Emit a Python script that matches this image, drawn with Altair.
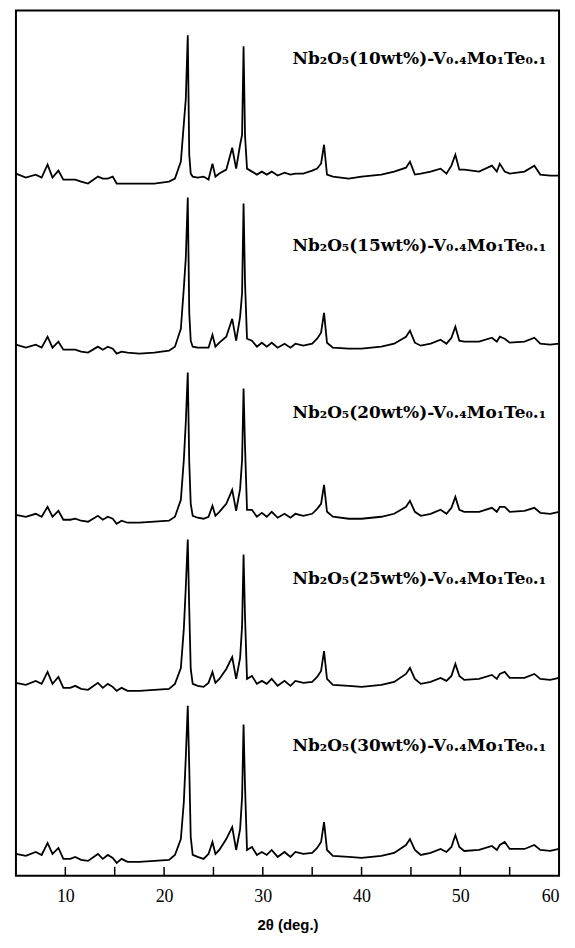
import altair as alt
import pandas as pd

# 2-theta grid (deg.)
two_theta = [5.0, 6.0, 7.0, 7.6, 8.2, 8.7, 9.3, 9.8, 10.5, 11.0,
             11.6, 12.3, 13.3, 13.8, 14.3, 14.8, 15.2, 15.7, 16.3, 17.5,
             19.0, 20.5, 21.1, 21.7, 22.0, 22.2, 22.4, 22.55, 22.7, 22.9,
             23.4, 24.0, 24.5, 24.9, 25.2, 25.6, 26.3, 26.9, 27.3, 27.7,
             27.9, 28.05, 28.2, 28.4, 28.9, 29.4, 29.9, 30.4, 30.9, 31.5,
             32.2, 32.8, 33.3, 34.1, 35.0, 35.5, 35.9, 36.2, 36.5, 37.1,
             38.7, 40.0, 42.0, 43.3, 44.5, 44.9, 45.4, 46.0, 47.0, 48.0,
             48.6, 49.1, 49.5, 49.9, 50.4, 51.9, 53.2, 53.7, 54.0, 54.5,
             55.0, 56.5, 57.5, 58.1, 59.1, 60.0]

# intensities (arbitrary units) for each sample
int_10 = [10, 6, 9, 6, 19, 6, 13, 4, 4, 4,
          2, 0, 7, 5, 5, 7, 0, 0, 0, 0,
          0, 2, 5, 22, 60, 85, 149, 29, 10, 7,
          6, 7, 4, 20, 7, 10, 14, 36, 15, 39,
          49, 138, 48, 15, 12, 9, 12, 9, 12, 8,
          11, 9, 10, 10, 13, 15, 20, 39, 9, 7,
          5, 7, 9, 12, 16, 22, 9, 10, 12, 15,
          10, 18, 29, 14, 14, 12, 18, 12, 20, 12,
          10, 12, 18, 9, 8, 8]
int_15 = [8, 5, 8, 5, 16, 5, 11, 3, 3, 3,
          1, 0, 6, 3, 6, 4, -1, 1, 0, -1,
          0, 2, 6, 24, 65, 95, 156, 40, 12, 6,
          5, 5, 5, 18, 6, 10, 16, 34, 12, 36,
          60, 150, 70, 14, 12, 6, 10, 6, 10, 5,
          9, 5, 9, 7, 9, 14, 20, 40, 10, 5,
          4, 4, 6, 9, 16, 22, 10, 7, 9, 13,
          9, 15, 26, 12, 11, 11, 15, 11, 16, 14,
          10, 11, 15, 9, 8, 9]
int_20 = [7, 5, 8, 5, 15, 5, 11, 2, 2, 3,
          1, 0, 6, 2, 5, 3, -2, 1, -1, -1,
          0, 1, 5, 22, 62, 100, 150, 60, 18, 6,
          4, 3, 5, 16, 6, 10, 18, 32, 11, 33,
          62, 134, 75, 12, 12, 5, 9, 5, 10, 4,
          8, 4, 8, 6, 8, 13, 18, 37, 10, 5,
          3, 3, 5, 8, 15, 21, 10, 6, 8, 12,
          8, 14, 25, 12, 10, 10, 14, 10, 15, 15,
          10, 11, 14, 9, 8, 10]
int_25 = [6, 4, 8, 5, 17, 5, 12, 1, 1, 3,
          0, -1, 6, 1, 5, 2, -2, 1, -2, -2,
          -1, 0, 5, 21, 60, 102, 150, 80, 20, 5,
          3, 2, 6, 17, 6, 10, 20, 32, 10, 31,
          63, 135, 72, 10, 13, 5, 8, 5, 10, 3,
          8, 3, 8, 6, 7, 12, 18, 38, 10, 4,
          3, 2, 4, 7, 15, 21, 10, 5, 7, 11,
          8, 13, 25, 13, 9, 10, 14, 10, 15, 17,
          11, 11, 15, 10, 9, 11]
int_30 = [6, 4, 8, 5, 17, 6, 12, 1, 1, 3,
          0, -1, 6, 1, 5, 2, -3, 1, -2, -2,
          -1, 0, 5, 21, 58, 103, 155, 93, 23, 5,
          3, 1, 6, 18, 6, 10, 21, 33, 10, 31,
          63, 136, 73, 10, 13, 5, 8, 5, 10, 3,
          8, 3, 8, 6, 7, 12, 18, 38, 10, 4,
          3, 2, 4, 7, 15, 21, 10, 5, 7, 11,
          8, 13, 25, 13, 9, 10, 14, 10, 15, 18,
          11, 11, 15, 10, 9, 11]

series = [int_10, int_15, int_20, int_25, int_30]
labels = ["Nb₂O₅(10wt%)-V₀.₄Mo₁Te₀.₁",
          "Nb₂O₅(15wt%)-V₀.₄Mo₁Te₀.₁",
          "Nb₂O₅(20wt%)-V₀.₄Mo₁Te₀.₁",
          "Nb₂O₅(25wt%)-V₀.₄Mo₁Te₀.₁",
          "Nb₂O₅(30wt%)-V₀.₄Mo₁Te₀.₁"]
offsets = [696, 526, 356, 188, 16]
label_rise = [125, 107, 109, 110, 114]
tick_values = [10, 15, 20, 25, 30, 35, 40, 45, 50, 55]
label_values = [10, 20, 30, 40, 50, 60]

rows = []
for lab, off, ys in zip(labels, offsets, series):
    for x, y in zip(two_theta, ys):
        rows.append({"tt": x, "y": off + y, "sample": lab})
df = pd.DataFrame(rows)

lab_df = pd.DataFrame({"sample": labels,
                       "y": [o + r for o, r in zip(offsets, label_rise)]})
tick_df = pd.DataFrame({"t": tick_values})

xscale = alt.Scale(domain=[5, 60], nice=False, zero=False)
yscale = alt.Scale(domain=[0, 870], nice=False, zero=False)

lines = alt.Chart(df).mark_line(color="black", strokeWidth=1.8).encode(
    x=alt.X("tt:Q", scale=xscale,
            axis=alt.Axis(values=label_values, ticks=False, domain=False, grid=False,
                          labelFont="Liberation Serif", labelFontSize=18,
                          labelColor="black", labelPadding=12,
                          title="2θ (deg.)", titleFont="Liberation Sans",
                          titleFontSize=15, titleFontWeight="bold",
                          titleColor="black", titlePadding=12)),
    y=alt.Y("y:Q", scale=yscale, axis=None),
    detail="sample:N",
)

ticks = alt.Chart(tick_df).mark_rule(color="black", strokeWidth=1.5).encode(
    x=alt.X("t:Q", scale=xscale),
    y=alt.value(870),
    y2=alt.value(861),
)

texts = alt.Chart(lab_df).mark_text(
    align="right", baseline="middle", font="DejaVu Serif",
    fontSize=17, fontWeight="bold", color="black",
).encode(
    x=alt.value(533),
    y=alt.Y("y:Q", scale=yscale),
    text="sample:N",
)

chart = alt.layer(lines, ticks, texts).properties(
    width=546, height=870,
    background="white",
    padding={"left": 4, "top": 0, "right": 4, "bottom": 0},
).configure_view(stroke="black", strokeWidth=2)

chart.save("out.html", embed_options={"renderer": "svg", "actions": False})
